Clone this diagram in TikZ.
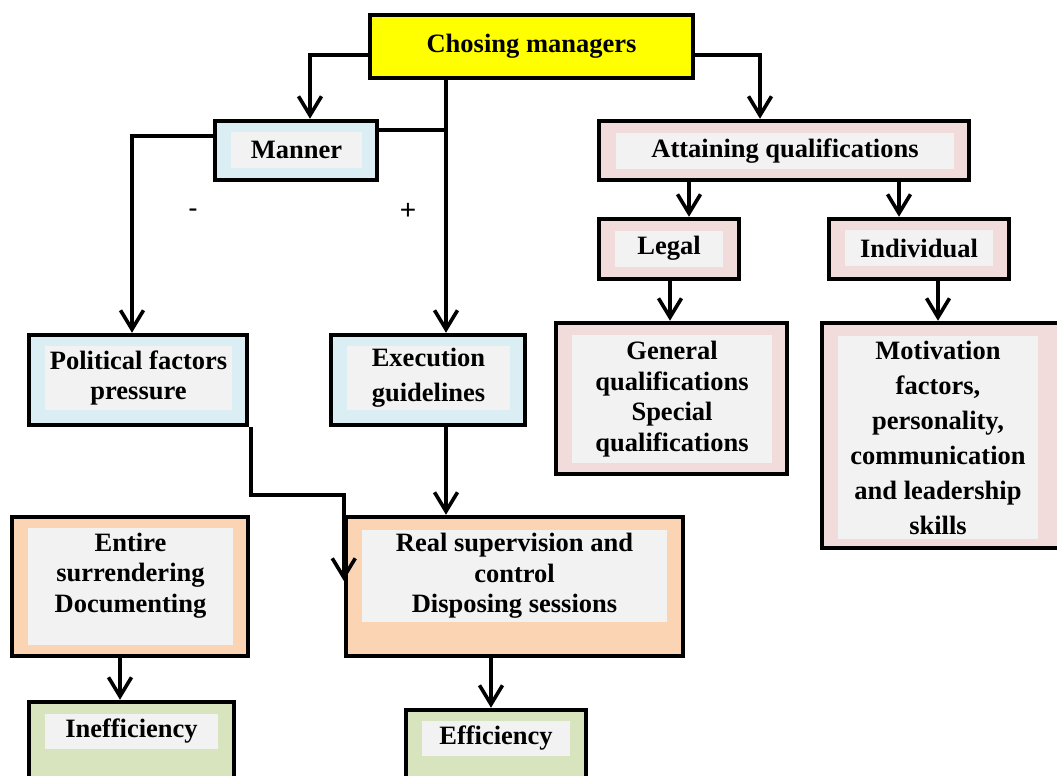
\documentclass[tikz,border=0pt]{standalone}
\usepackage{fontspec}
\setmainfont{Liberation Serif}
\setsansfont{Liberation Sans}
\usetikzlibrary{arrows.meta}
\definecolor{yellowfill}{HTML}{FFFF00}
\definecolor{bluefill}{HTML}{DAEEF3}
\definecolor{pinkfill}{HTML}{F2DCDB}
\definecolor{peachfill}{HTML}{FBD4B4}
\definecolor{greenfill}{HTML}{D7E4BD}
\definecolor{innergray}{HTML}{F2F2F2}
\tikzset{
  outerbox/.style={
    draw,
    line width = 4.5pt,
    inner sep = 0pt
  },
  innerbox/.style={
    fill = innergray,
    inner sep = 0pt,
    align = center,
    font = \bfseries\fontsize{26.5}{30.5}\selectfont
  },
  tallbox/.style={
    innerbox,
    font = \bfseries\fontsize{26.5}{35}\selectfont
  },
  link/.style={
    line width = 3.6pt
  },
  linkarrow/.style={
    link,
    -{Straight Barb[length=19pt,width=23pt]}
  },
  sign/.style={
    font = \sffamily\fontsize{28}{30}\selectfont
  }
}

\begin{document}
\begin{tikzpicture}[x=1pt,y=-1pt]
    \useasboundingbox (0,0) rectangle (1057,776);
    \clip (0,0) rectangle (1057,776);
    % top
    \node[outerbox, fill=yellowfill, minimum width=323pt, minimum height=63pt,
          font=\bfseries\fontsize{26.5}{30.5}\selectfont] (chose) at (531.5,46.5) {Chosing managers};
    % manner branch
    \node[outerbox, fill=bluefill, minimum width=162pt, minimum height=59pt] (manner) at (296,150.5) {};
    \node[innerbox, minimum width=131pt, minimum height=36pt] (mannertext) at (296.5,150) {Manner};
    \node[outerbox, fill=bluefill, minimum width=218pt, minimum height=90pt] (polit) at (138,380) {};
    \node[innerbox, minimum width=187pt, minimum height=64pt] (polittext) at (138.5,378) {Political factors\\pressure};
    \node[outerbox, fill=bluefill, minimum width=194pt, minimum height=90pt] (exec) at (428,380) {};
    \node[tallbox, minimum width=163pt, minimum height=64pt] (exectext) at (428.5,378) {Execution\\guidelines};
    \node[outerbox, fill=peachfill, minimum width=236pt, minimum height=139pt] (entire) at (130,586.5) {};
    \node[innerbox, minimum width=205pt, minimum height=117pt, text height=84pt, text depth=33pt] (entiretext) at (130.5,586.5) {Entire\\surrendering\\Documenting};
    \node[outerbox, fill=peachfill, minimum width=337pt, minimum height=139pt] (real) at (514.5,586.5) {};
    \node[innerbox, minimum width=305pt, minimum height=92pt] (realtext) at (514.5,576) {Real supervision and\\control\\Disposing sessions};
    \node[outerbox, fill=greenfill, minimum width=205pt, minimum height=98pt] (ineff) at (131.5,751) {};
    \node[innerbox, minimum width=173pt, minimum height=35pt] (inefftext) at (131.5,731) {Inefficiency};
    \node[outerbox, fill=greenfill, minimum width=180pt, minimum height=90pt] (eff) at (496,755) {};
    \node[innerbox, minimum width=148pt, minimum height=35pt] (efftext) at (496,738) {Efficiency};
    % qualifications branch
    \node[outerbox, fill=pinkfill, minimum width=370pt, minimum height=59pt] (attain) at (784,150.5) {};
    \node[innerbox, minimum width=338pt, minimum height=36pt] (attaintext) at (785,151) {Attaining qualifications};
    \node[outerbox, fill=pinkfill, minimum width=140pt, minimum height=60pt] (legal) at (669,249) {};
    \node[innerbox, minimum width=108pt, minimum height=36pt] (legaltext) at (669,248.5) {Legal};
    \node[outerbox, fill=pinkfill, minimum width=180pt, minimum height=60pt] (indiv) at (919,249) {};
    \node[innerbox, minimum width=148pt, minimum height=36pt] (indivtext) at (919,248) {Individual};
    \node[outerbox, fill=pinkfill, minimum width=231pt, minimum height=151pt] (general) at (671.5,398.5) {};
    \node[innerbox, minimum width=200pt, minimum height=128pt] (generaltext) at (672,399) {General\\qualifications\\Special\\qualifications};
    \node[outerbox, fill=pinkfill, minimum width=250pt, minimum height=225pt] (motiv) at (947,435.5) {};
    \node[tallbox, minimum width=200pt, minimum height=203pt] (motivtext) at (938,437.5) {Motivation\\factors,\\personality,\\communication\\and leadership\\skills};
    % signs
    \node[sign] (minus) at (193,213) {-};
    \node[sign] (plus) at (408,211) {+};
    % connectors
    \draw[linkarrow] ([yshift=-8.5pt]chose.west) -| ([xshift=14pt]manner.north);
    \draw[linkarrow] ([yshift=-8.5pt]chose.east) -| ([xshift=-24pt]attain.north);
    \draw[linkarrow] ([xshift=18pt]exec.north |- chose.south) -- ([xshift=18pt]exec.north);
    \draw[link] ([yshift=20.5pt]manner.east) -- ([xshift=18pt,yshift=20.5pt]exec.north |- manner.east);
    \draw[linkarrow] ([yshift=14.5pt]manner.west) -| ([xshift=-6pt]polit.north);
    \coordinate (jog) at ([yshift=20pt]real.north west);
    \draw[linkarrow] ([xshift=2pt]polit.south east) |- (jog) -- ([yshift=-66pt]real.north west);
    \draw[linkarrow] ([xshift=18pt]exec.south) -- ([xshift=18pt]exec.south |- real.north);
    \draw[linkarrow] ([xshift=-10pt]entire.south) -- ([xshift=-10pt]entire.south |- ineff.north);
    \draw[linkarrow] ([xshift=-23.5pt]real.south) -- ([xshift=-23.5pt]real.south |- eff.north);
    \draw[linkarrow] ([xshift=20pt]legal.north |- attain.south) -- ([xshift=20pt]legal.north);
    \draw[linkarrow] ([xshift=-20pt]indiv.north |- attain.south) -- ([xshift=-20pt]indiv.north);
    \draw[linkarrow] ([xshift=-1.5pt]general.north |- legal.south) -- ([xshift=-1.5pt]general.north);
    \draw[linkarrow] ([xshift=-9pt]motiv.north |- indiv.south) -- ([xshift=-9pt]motiv.north);
\end{tikzpicture}
\end{document}
